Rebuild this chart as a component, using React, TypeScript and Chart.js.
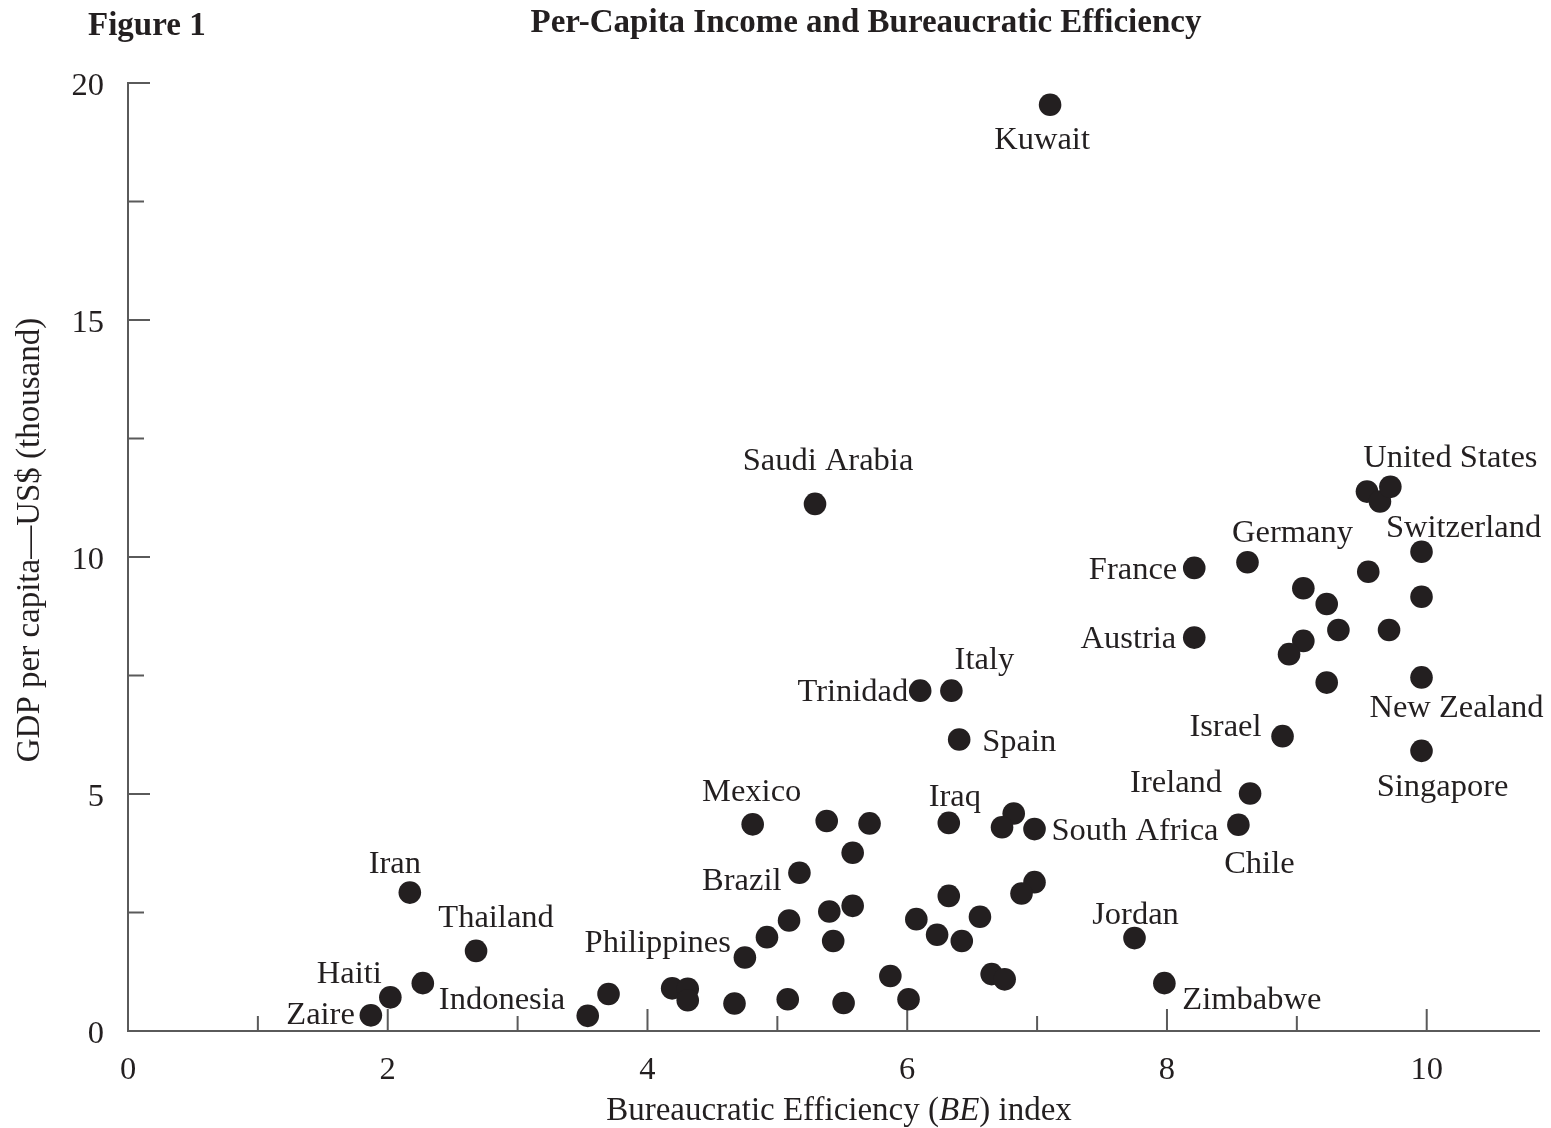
import React, { useEffect, useRef } from "react";
import { Chart, registerables } from "chart.js";

Chart.register(...registerables);

// ---- Data ----
const countryNames: string[] = [
  "Kuwait", "Saudi Arabia", "", "", "United States", "Switzerland", "Germany", "France",
  "", "", "", "", "", "", "Austria", "", "", "", "New Zealand", "Israel", "Singapore",
  "Ireland", "Chile", "Trinidad", "Italy", "Spain", "Iraq", "", "", "South Africa",
  "Mexico", "", "", "", "Brazil", "", "", "", "", "", "", "", "Philippines", "", "", "",
  "", "", "", "", "", "", "", "", "", "", "", "", "", "", "Jordan", "Zimbabwe",
  "Iran", "Thailand", "Indonesia", "Haiti", "Zaire",
];

const beIndex: number[] = [
  7.10, 5.29, 9.54, 9.64, 9.72, 9.96, 8.62, 8.21,
  9.55, 9.05, 9.23, 9.96, 9.32, 9.71, 8.21, 9.05, 8.94, 9.23, 9.96, 8.89, 9.96,
  8.64, 8.55, 6.10, 6.34, 6.40, 6.32, 6.82, 6.73, 6.98,
  4.81, 5.38, 5.71, 5.58, 5.17, 6.98, 6.88, 6.32, 5.58, 5.40, 5.09, 4.92, 4.75, 5.43, 6.07, 6.56,
  6.23, 6.42, 5.87, 6.01, 6.65, 6.75, 4.67, 5.08, 5.51, 3.70, 3.54, 4.19, 4.31, 4.31, 7.75, 7.98,
  2.17, 2.68, 2.27, 2.02, 1.87,
];

const gdpPerCapita: number[] = [
  19.54, 11.12, 11.38, 11.17, 11.48, 10.11, 9.89, 9.77,
  9.69, 9.34, 9.01, 9.16, 8.46, 8.46, 8.30, 8.23, 7.95, 7.35, 7.46, 6.22, 5.91,
  5.01, 4.35, 7.18, 7.18, 6.15, 4.39, 4.59, 4.30, 4.26,
  4.36, 4.43, 4.38, 3.76, 3.34, 3.14, 2.90, 2.85, 2.64, 2.52, 2.33, 1.98, 1.55, 1.90, 2.36, 2.41,
  2.03, 1.90, 1.16, 0.67, 1.20, 1.09, 0.58, 0.67, 0.59, 0.78, 0.32, 0.90, 0.89, 0.65, 1.96, 1.01,
  2.92, 1.69, 1.01, 0.71, 0.33,
];

const xTickLabels: number[] = [0, 2, 4, 6, 8, 10];
const yTickLabels: number[] = [0, 5, 10, 15, 20];

// ---- Styling / label placement (pixel offsets from each point) ----
type Place = { dx: number; dy: number; align: CanvasTextAlign };
const labelPlacement: Record<string, Place> = {
  "Kuwait": { dx: -8, dy: 34, align: "center" },
  "Saudi Arabia": { dx: 13, dy: -44, align: "center" },
  "United States": { dx: 60, dy: -30, align: "center" },
  "Switzerland": { dx: 42, dy: -25, align: "center" },
  "Germany": { dx: 45, dy: -31, align: "center" },
  "France": { dx: -17, dy: 1, align: "right" },
  "Austria": { dx: -18, dy: 0, align: "right" },
  "New Zealand": { dx: 35, dy: 29, align: "center" },
  "Israel": { dx: -21, dy: -11, align: "right" },
  "Singapore": { dx: 21, dy: 35, align: "center" },
  "Ireland": { dx: -28, dy: -12, align: "right" },
  "Chile": { dx: 21, dy: 38, align: "center" },
  "Trinidad": { dx: -12, dy: 0, align: "right" },
  "Italy": { dx: 33, dy: -32, align: "center" },
  "Spain": { dx: 23, dy: 1, align: "left" },
  "Mexico": { dx: -1, dy: -34, align: "center" },
  "Iraq": { dx: 6, dy: -27, align: "center" },
  "South Africa": { dx: 17, dy: 0, align: "left" },
  "Brazil": { dx: -18, dy: 7, align: "right" },
  "Philippines": { dx: -14, dy: -16, align: "right" },
  "Jordan": { dx: 1, dy: -25, align: "center" },
  "Zimbabwe": { dx: 18, dy: 15, align: "left" },
  "Iran": { dx: -15, dy: -30, align: "center" },
  "Thailand": { dx: 20, dy: -34, align: "center" },
  "Indonesia": { dx: 16, dy: 15, align: "left" },
  "Haiti": { dx: -41, dy: -25, align: "center" },
  "Zaire": { dx: -16, dy: -2, align: "right" },
};
const LABEL_BASELINE_SHIFT = 2;

const INK = "#231f20";
const AXIS = "#5a5a5a";
const SERIF = "'Liberation Serif', 'Times New Roman', serif";

const tickMarksPlugin = {
  id: "tickMarks",
  beforeDatasetsDraw(chart: any) {
    const ctx = chart.ctx as CanvasRenderingContext2D;
    const xs = chart.scales.x;
    const ys = chart.scales.y;
    const area = chart.chartArea;
    ctx.save();
    ctx.strokeStyle = AXIS;
    ctx.lineWidth = 2;
    ctx.beginPath();
    xs.ticks.forEach((t: any) => {
      if (!Number.isInteger(t.value) || t.value === 0) return;
      const px = xs.getPixelForValue(t.value);
      const len = xTickLabels.includes(t.value) ? 22 : 15;
      ctx.moveTo(px, area.bottom);
      ctx.lineTo(px, area.bottom - len);
    });
    ys.ticks.forEach((t: any) => {
      if (t.value === 0) return;
      const py = ys.getPixelForValue(t.value);
      const len = yTickLabels.includes(t.value) ? 22 : 16;
      ctx.moveTo(area.left, py);
      ctx.lineTo(area.left + len, py);
    });
    ctx.stroke();
    ctx.restore();
  },
};

const textPlugin = {
  id: "textOverlay",
  afterDatasetsDraw(chart: any) {
    const ctx = chart.ctx as CanvasRenderingContext2D;
    const meta = chart.getDatasetMeta(0);
    ctx.save();
    ctx.fillStyle = INK;
    ctx.textBaseline = "middle";
    ctx.font = `32.5px ${SERIF}`;
    countryNames.forEach((name, i) => {
      if (!name) return;
      const p = labelPlacement[name];
      const el = meta.data[i];
      if (!p || !el) return;
      ctx.textAlign = p.align;
      ctx.fillText(name, el.x + p.dx, el.y + p.dy + LABEL_BASELINE_SHIFT);
    });

    // Titles
    ctx.font = `bold 33px ${SERIF}`;
    ctx.textAlign = "left";
    ctx.fillText("Figure 1", 88, 26);
    ctx.textAlign = "center";
    ctx.fillText("Per-Capita Income and Bureaucratic Efficiency", 866, 23);

    // X axis title with italic BE
    const parts: [string, string][] = [
      ["Bureaucratic Efficiency (", `33px ${SERIF}`],
      ["BE", `italic 33px ${SERIF}`],
      [") index", `33px ${SERIF}`],
    ];
    let total = 0;
    parts.forEach(([s, f]) => { ctx.font = f; total += ctx.measureText(s).width; });
    let x = 839 - total / 2;
    ctx.textAlign = "left";
    parts.forEach(([s, f]) => {
      ctx.font = f;
      ctx.fillText(s, x, 1111);
      x += ctx.measureText(s).width;
    });

    // Y axis title
    ctx.save();
    ctx.translate(30, 540);
    ctx.rotate(-Math.PI / 2);
    ctx.textAlign = "center";
    ctx.font = `33px ${SERIF}`;
    ctx.fillText("GDP per capita\u2014US$ (thousand)", 0, 0);
    ctx.restore();
    ctx.restore();
  },
};

export default function App() {
  const ref = useRef<HTMLCanvasElement | null>(null);
  useEffect(() => {
    document.body.style.margin = "0";
    const canvas = ref.current!;
    const points = beIndex.map((x, i) => ({ x, y: gdpPerCapita[i] }));
    const tickFont = { family: SERIF, size: 32.5 };
    const chart = new Chart(canvas, {
      type: "scatter",
      data: {
        datasets: [
          {
            data: points,
            pointRadius: 11.3,
            pointHoverRadius: 11.3,
            backgroundColor: INK,
            borderWidth: 0,
            clip: false as any,
          },
        ],
      },
      options: {
        responsive: false,
        animation: false,
        events: [],
        layout: { padding: { top: 83, right: 10, left: 0, bottom: 0 } },
        plugins: { legend: { display: false }, tooltip: { enabled: false }, title: { display: false } },
        scales: {
          x: {
            type: "linear",
            min: 0,
            max: 10.87,
            grid: { display: false, drawTicks: false },
            border: { display: true, color: AXIS, width: 2 },
            ticks: {
              stepSize: 1,
              includeBounds: false,
              autoSkip: false,
              maxRotation: 0,
              padding: 20,
              color: INK,
              font: tickFont,
              callback: (v: any) => (xTickLabels.includes(Number(v)) ? String(v) : ""),
            },
            afterFit: (s: any) => { s.height = 97; },
          },
          y: {
            type: "linear",
            min: 0,
            max: 20,
            grid: { display: false, drawTicks: false },
            border: { display: true, color: AXIS, width: 2 },
            ticks: {
              stepSize: 2.5,
              autoSkip: false,
              padding: 24,
              labelOffset: 3,
              color: INK,
              font: tickFont,
              callback: (v: any) => (yTickLabels.includes(Number(v)) ? String(v) : ""),
            },
            afterFit: (s: any) => { s.width = 128; },
          },
        },
      },
      plugins: [tickMarksPlugin, textPlugin],
    });
    return () => chart.destroy();
  }, []);
  return (
    <div style={{ position: "absolute", left: 0, top: 0, width: 1551, height: 1128, background: "#fff" }}>
      <canvas ref={ref} width={1551} height={1128} style={{ display: "block" }} />
    </div>
  );
}
